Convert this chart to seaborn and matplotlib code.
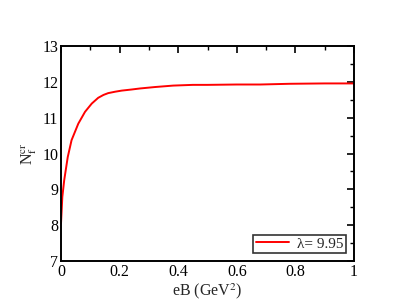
import matplotlib
matplotlib.use("Agg")
import matplotlib.pyplot as plt
from matplotlib.ticker import MultipleLocator
import pandas as pd
import seaborn as sns

# datos
eB = [0.0, 0.0045, 0.011, 0.023, 0.036, 0.059, 0.082, 0.105, 0.127, 0.145, 0.161,
      0.185, 0.207, 0.24, 0.27, 0.321, 0.383, 0.45, 0.5, 0.6, 0.68, 0.78, 0.9, 1.0]
Nf_cr = [8.05, 8.79, 9.26, 9.9, 10.37, 10.83, 11.16, 11.39, 11.55, 11.63, 11.68,
         11.72, 11.75, 11.78, 11.81, 11.85, 11.89, 11.91, 11.91, 11.92, 11.92, 11.94, 11.95, 11.95]
etiqueta = "λ= 9.95"

df = pd.DataFrame({"eB": eB, "Nf": Nf_cr})

sns.set_style("white")
plt.rcParams["font.family"] = ["Liberation Serif", "DejaVu Serif"]
plt.rcParams["mathtext.fontset"] = "stix"

fig = plt.figure(figsize=(3.99, 3.08), dpi=100)
ax = fig.add_axes([61 / 399, 1 - 261.3 / 308, 293 / 399, 215.6 / 308])

sns.lineplot(data=df, x="eB", y="Nf", color="red", linewidth=1.4, label=etiqueta, ax=ax)

ax.set_xlim(0, 1)
ax.set_ylim(7, 13)
ax.xaxis.set_minor_locator(MultipleLocator(0.1))
ax.yaxis.set_major_locator(MultipleLocator(1))
ax.yaxis.set_minor_locator(MultipleLocator(0.5))
ax.set_xticks([0, 0.2, 0.4, 0.6, 0.8, 1.0])
ax.set_xticklabels(["0", "0.2", "0.4", "0.6", "0.8", "1"])

for s in ax.spines.values():
    s.set_linewidth(1.4)
    s.set_color("black")
ax.tick_params(which="both", direction="in", top=True, right=True, labelsize=11.5, colors="black")
ax.tick_params(which="major", length=5, width=1.2, pad=2)
ax.tick_params(which="minor", length=3, width=1.0)

ax.set_xlabel("eB (GeV$^2$)", fontsize=11.5, labelpad=1)
ax.set_ylabel("N$_\\mathrm{f}^\\mathrm{cr}$", fontsize=11.5, labelpad=2)

leg = ax.legend(loc="lower right", fontsize=11, frameon=True, fancybox=False,
                handlelength=2.2, borderaxespad=0.55, borderpad=0.15, handletextpad=0.5)
leg.get_frame().set_edgecolor("black")
leg.get_frame().set_linewidth(1.2)

fig.savefig("out.png", dpi=100)
